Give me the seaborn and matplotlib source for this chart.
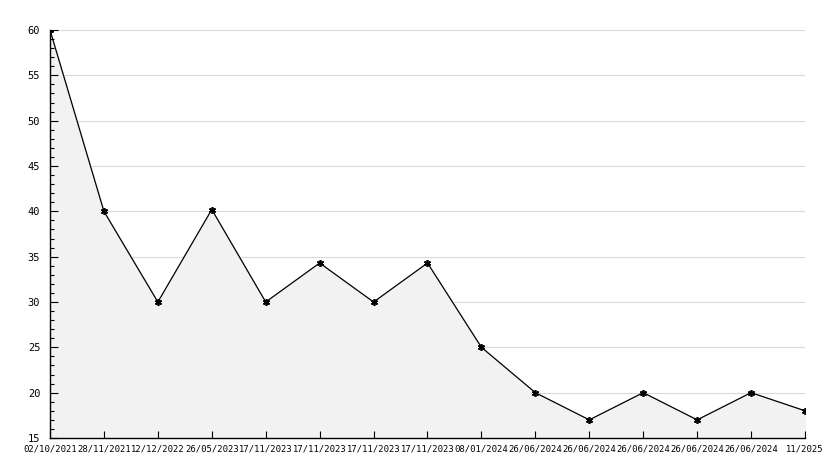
import matplotlib
matplotlib.use("Agg")
import matplotlib.pyplot as plt
import seaborn as sns
import pandas as pd
from matplotlib.ticker import MultipleLocator

labels = ["02/10/2021", "28/11/2021", "12/12/2022", "26/05/2023", "17/11/2023",
          "17/11/2023", "17/11/2023", "17/11/2023", "08/01/2024", "26/06/2024",
          "26/06/2024", "26/06/2024", "26/06/2024", "26/06/2024", "11/2025"]
values = [60, 40, 30, 40.2, 30, 34.3, 30, 34.3, 25, 20, 17, 20, 17, 20, 18]
grid_levels = [20, 25, 30, 35, 40, 45, 50, 55, 60]

df = pd.DataFrame({"idx": range(len(values)), "value": values})

sns.set_style("white")
plt.rcParams["font.family"] = ["DejaVu Sans Mono"]

fig = plt.figure(figsize=(8.34, 4.68), dpi=100)
ax = fig.add_axes([50/834, 30/468, 755/834, 408/468])

for g in grid_levels:
    ax.axhline(g, color="#d9d9d9", linewidth=0.8, zorder=0.2)
ax.fill_between(df["idx"], df["value"], 15, color="#f2f2f2", zorder=0.5)
sns.lineplot(data=df, x="idx", y="value", ax=ax, color="black", linewidth=0.9,
             marker=(6, 2, 0), markersize=5, markeredgewidth=1.2,
             markeredgecolor="black", zorder=3)

ax.set_axisbelow(False)
ax.set_xlim(0, len(values) - 1)
ax.set_ylim(15, 60)
ax.set_xticks(range(len(values)))
ax.set_xticklabels(labels)
ax.yaxis.set_major_locator(MultipleLocator(5))
ax.yaxis.set_minor_locator(MultipleLocator(1))
ax.tick_params(axis="y", which="major", direction="in", length=6, width=0.8,
               labelsize=7.5, pad=7, left=True, colors="black", labelcolor="black")
ax.tick_params(axis="y", which="minor", direction="in", length=3, width=0.8,
               left=True, colors="black")
ax.tick_params(axis="x", which="major", direction="in", length=5, width=0.8,
               labelsize=6.4, pad=5, bottom=True, colors="black", labelcolor="black")
ax.grid(False)
for s in ["top", "right"]:
    ax.spines[s].set_visible(False)
for s in ["left", "bottom"]:
    ax.spines[s].set_color("black")
    ax.spines[s].set_linewidth(1.0)
ax.set_xlabel("")
ax.set_ylabel("")

fig.savefig("out.png", dpi=100)
